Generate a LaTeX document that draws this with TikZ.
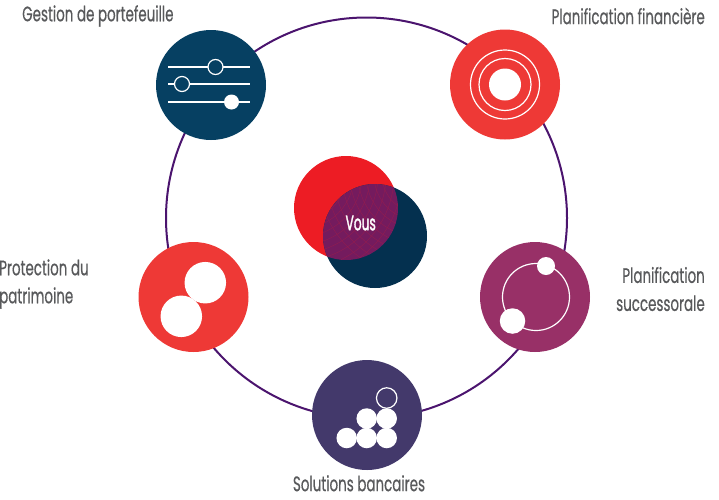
\documentclass[tikz,border=0pt]{standalone}
\usepackage{fontspec}
\setmainfont[FakeStretch=0.64,FakeBold=0.5]{Poppins}
\newfontfamily\vousfont[FakeStretch=0.58,FakeBold=1.5]{Poppins}
\usepackage{xcolor}
\usetikzlibrary{positioning}
\definecolor{ringviolet}{RGB}{75, 20, 110}
\definecolor{labelgrey}{RGB}{88, 89, 91}
\definecolor{slidernavy}{RGB}{6, 64, 98}
\definecolor{coralred}{RGB}{238, 57, 54}
\definecolor{plum}{RGB}{152, 48, 103}
\definecolor{indigo}{RGB}{67, 57, 107}
\definecolor{vousred}{RGB}{237, 28, 36}
\definecolor{vousnavy}{RGB}{4, 48, 79}
\definecolor{lensplum}{RGB}{116, 27, 94}

\begin{document}
\begin{tikzpicture}[
    x=1pt, y=-1pt,
    disc/.style={circle, fill=#1, inner sep=0pt, outer sep=0pt, minimum size=110pt},
    dot/.style={circle, fill=white, inner sep=0pt, outer sep=0pt, minimum size=#1},
    hoop/.style={circle, draw=white, line width=1.2pt, inner sep=0pt, outer sep=0pt, minimum size=#1},
    label/.style={text=labelgrey, font=\fontsize{21}{28}\selectfont, inner sep=0pt}
]
\useasboundingbox (0,0) rectangle (719,499);

% big ring behind the discs
\node[circle, draw=ringviolet, line width=2pt, inner sep=0pt, minimum size=401pt] (ring) at (366.5,218) {};

% centre
\node[circle, fill=vousred, inner sep=0pt, minimum size=104pt] (vousa) at (346,208) {};
\node[circle, fill=vousnavy, inner sep=0pt, minimum size=104pt] (vousb) at (375,236) {};
\begin{scope}
\clip (346,208) circle (52);
\clip (375,236) circle (52);
\fill[lensplum] (375,236) circle (52);
\foreach \r in {8,16,...,72} {
    \draw[vousred!25!lensplum, line width=0.4pt] (300,175) circle (\r+30);
    \draw[vousred!25!lensplum, line width=0.4pt] (420,175) circle (\r+30);
}
\end{scope}
\node[text=white, font=\vousfont\fontsize{21}{22}\selectfont] (vous) at (360.7,223) {Vous};

% gestion de portefeuille
\node[disc=slidernavy] (gestion) at (211,85) {};
\coordinate (sa) at (168,67);
\coordinate (sb) at (250,67);
\coordinate (sc) at (168,84);
\coordinate (sd) at (250,84);
\coordinate (se) at (168,102);
\coordinate (sf) at (250,102);
\draw[white, line width=1.2pt] (sa) -- (sb);
\draw[white, line width=1.2pt] (sc) -- (sd);
\draw[white, line width=1.2pt] (se) -- (sf);
\node[hoop=15pt, fill=slidernavy] (knoba) at (215.5,67) {};
\node[hoop=15pt, fill=slidernavy] (knobb) at (182,84) {};
\node[dot=15pt] (knobc) at (231.5,102) {};
\node[label, anchor=west] (lgestion) at (22,16) {Gestion de portefeuille};

% planification financiere
\node[disc=coralred] (financiere) at (505,84.5) {};
\node[dot=32pt] (target) at (505,84.5) {};
\node[hoop=52pt] (hoopa) at (505,84.5) {};
\node[hoop=69pt] (hoopb) at (505,84.5) {};
\node[label, anchor=east] (lfinanciere) at (705,16) {Planification financière};

% planification successorale
\node[disc=plum] (successorale) at (535,297) {};
\node[hoop=67pt] (orbit) at (536,297) {};
\node[dot=18pt] (moon) at (546,266) {};
\node[dot=25.5pt] (planet) at (512.5,321) {};
\node[label, anchor=east, align=right] (lsuccessorale) at (705,289) {Planification\\successorale};

% solutions bancaires
\node[disc=indigo] (solutions) at (367,415) {};
\node[hoop=20.5pt] (balla) at (386.7,398) {};
\node[dot=20.5pt] (ballb) at (366.7,418.5) {};
\node[dot=20.5pt] (ballc) at (386.7,418.5) {};
\node[dot=20.5pt] (balld) at (346.7,438) {};
\node[dot=20.5pt] (balle) at (366.7,438) {};
\node[dot=20.5pt] (ballf) at (386.7,438) {};
\node[label, anchor=north] (lsolutions) at (359,475) {Solutions bancaires};

% protection du patrimoine
\node[disc=coralred] (protection) at (193.5,297) {};
\node[dot=41.5pt] (pearla) at (205.3,282.7) {};
\node[dot=41.5pt] (pearlb) at (181.3,316.3) {};
\node[label, anchor=west, align=left] (lprotection) at (-1,284) {Protection du\\patrimoine};
\end{tikzpicture}
\end{document}
